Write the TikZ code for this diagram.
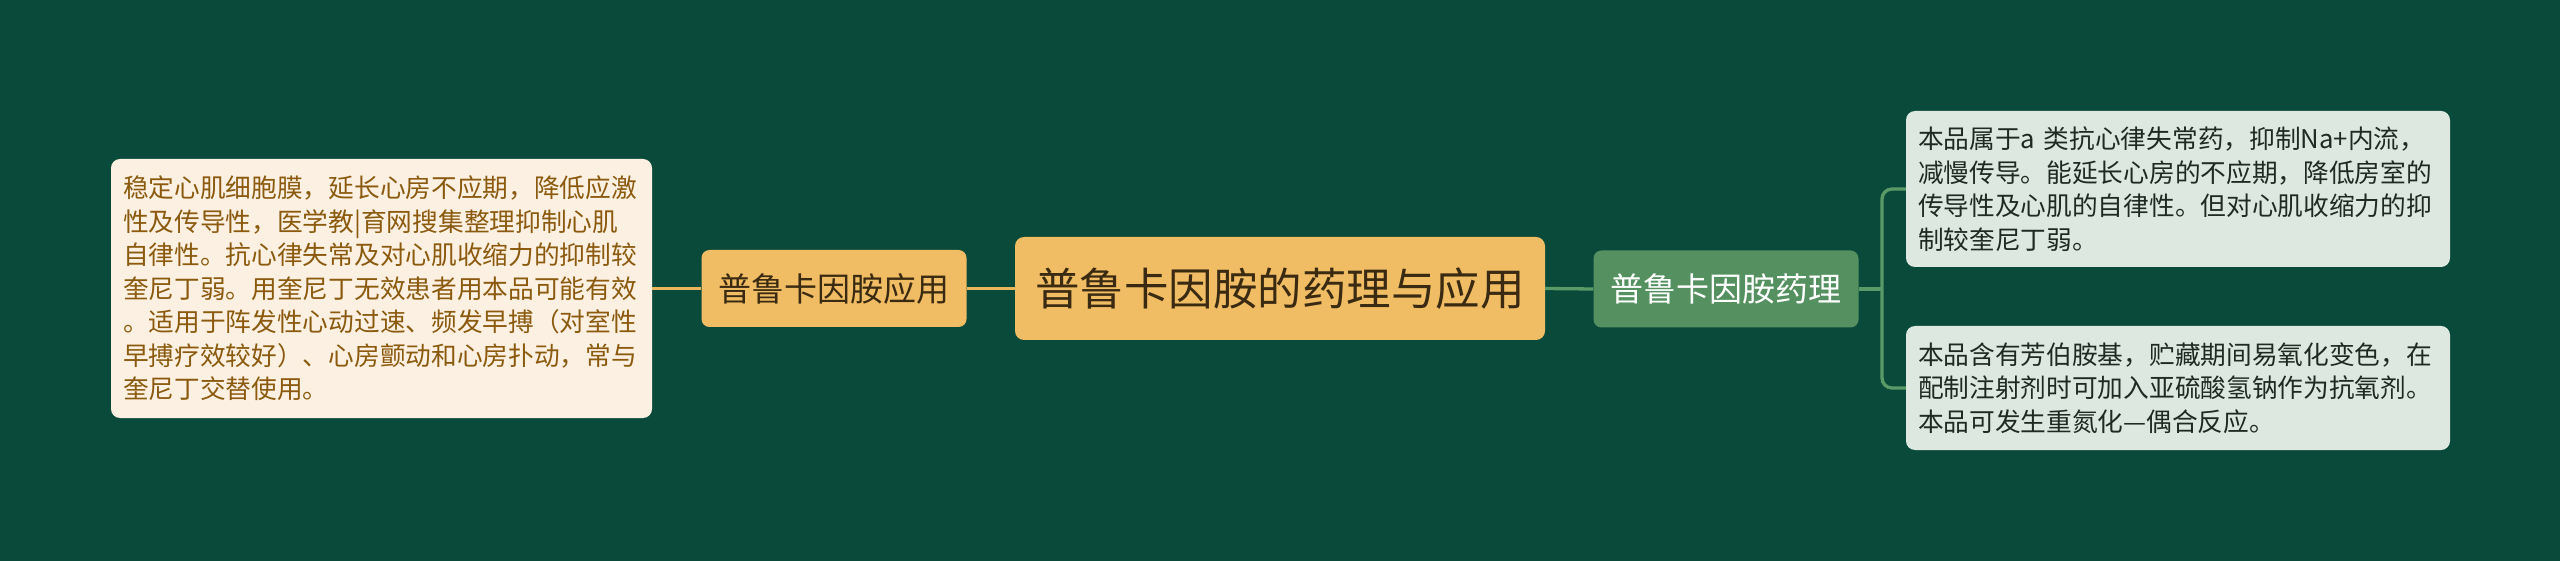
\documentclass[tikz,border=0pt]{standalone}
\usepackage{fontspec}
\setmainfont{Noto Sans CJK SC}
\usepackage{xcolor}
\usepackage{tikz}
\definecolor{bg}{HTML}{0A4A3A}
\definecolor{gold}{HTML}{F0BC64}
\definecolor{goldline}{HTML}{E9B65E}
\definecolor{ink}{HTML}{3A2A12}
\definecolor{cream}{HTML}{FCF0E2}
\definecolor{brown}{HTML}{8B5A0E}
\definecolor{leaf}{HTML}{559160}
\definecolor{leafline}{HTML}{5A9A66}
\definecolor{mint}{HTML}{DDE8E0}
\definecolor{darkink}{HTML}{1E2A22}
\tikzset{
  rootbox/.style={fill=gold, text=ink, rounded corners=9pt, minimum width=530pt, minimum height=103pt, inner sep=0pt, font=\fontsize{44.5}{52}\selectfont},
  subbox/.style={rounded corners=8pt, minimum width=265pt, minimum height=77pt, inner sep=0pt, font=\fontsize{33}{40}\selectfont},
  notebox/.style={rounded corners=9pt, inner xsep=12pt, inner ysep=0pt, text width=520pt, align=left, font=\fontsize{25.7}{33.5}\selectfont},
  orangeline/.style={draw=goldline, line width=3.3pt},
  greenline/.style={draw=leafline, line width=3.3pt},
}
\begin{document}
\begin{tikzpicture}[x=1pt,y=-1pt]
  \fill[bg] (0,0) rectangle (2560,561);
  \coordinate (fork) at (1882,289);

  \node[rootbox] (root) at (1280,288.5) {普鲁卡因胺的药理与应用};
  \node[subbox, fill=gold, text=ink] (appl) at (834,288.5) {普鲁卡因胺应用};
  \node[subbox, fill=leaf, text=white] (phar) at (1726,289) {普鲁卡因胺药理};
  \node[notebox, fill=cream, text=brown, text width=517pt, minimum height=259pt] (applNote) at (381.5,288.5)
    {稳定心肌细胞膜，延长心房不应期，降低应激\\性及传导性，医学教|育网搜集整理抑制心肌\\自律性。抗心律失常及对心肌收缩力的抑制较\\奎尼丁弱。用奎尼丁无效患者用本品可能有效\\。适用于阵发性心动过速、频发早搏（对室性\\早搏疗效较好）、心房颤动和心房扑动，常与\\奎尼丁交替使用。};
  \node[notebox, fill=mint, text=darkink, minimum height=156pt] (pharOne) at (2178,189)
    {本品属于a 类抗心律失常药，抑制Na+内流，\\减慢传导。能延长心房的不应期，降低房室的\\传导性及心肌的自律性。但对心肌收缩力的抑\\制较奎尼丁弱。};
  \node[notebox, fill=mint, text=darkink, minimum height=124pt] (pharTwo) at (2178,388)
    {本品含有芳伯胺基，贮藏期间易氧化变色，在\\配制注射剂时可加入亚硫酸氢钠作为抗氧剂。\\本品可发生重氮化—偶合反应。};

  \draw[orangeline] (applNote.east) -- (appl.west);
  \draw[orangeline] (appl.east) -- (root.west);
  \draw[greenline] (root.east) -- (phar.west);
  \draw[greenline] (phar.east) -- (fork);
  \draw[greenline, rounded corners=10pt] (fork) |- (pharOne.west);
  \draw[greenline, rounded corners=10pt] (fork) |- (pharTwo.west);
\end{tikzpicture}
\end{document}
